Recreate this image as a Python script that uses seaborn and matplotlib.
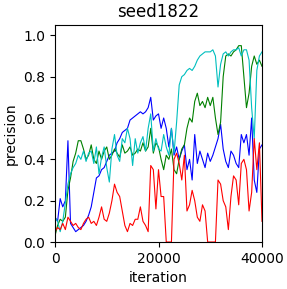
import numpy as np
import pandas as pd
import matplotlib
matplotlib.use("Agg")
import matplotlib.pyplot as plt
import seaborn as sns

iterations = list(range(0, 40001, 500))

red = [0.05, 0.07, 0.06, 0.09, 0.06, 0.12, 0.10, 0.08, 0.09, 0.07,
       0.06, 0.09, 0.11, 0.12, 0.09, 0.10, 0.08, 0.12, 0.17, 0.11,
       0.10, 0.14, 0.20, 0.28, 0.24, 0.22, 0.15, 0.08, 0.05, 0.09,
       0.08, 0.11, 0.11, 0.17, 0.10, 0.08, 0.05, 0.37, 0.35, 0.16,
       0.35, 0.22, 0.22, 0.00, 0.00, 0.00, 0.40, 0.43, 0.38, 0.30,
       0.42, 0.15, 0.18, 0.25, 0.20, 0.12, 0.10, 0.18, 0.15, 0.00,
       0.00, 0.00, 0.00, 0.30, 0.28, 0.20, 0.17, 0.06, 0.22, 0.32,
       0.30, 0.18, 0.38, 0.40, 0.35, 0.15, 0.24, 0.50, 0.35, 0.48,
       0.10]

blue = [0.12, 0.10, 0.21, 0.17, 0.20, 0.49, 0.09, 0.07, 0.05, 0.06,
        0.07, 0.08, 0.10, 0.13, 0.17, 0.24, 0.31, 0.32, 0.35, 0.36,
        0.39, 0.42, 0.43, 0.44, 0.48, 0.50, 0.53, 0.54, 0.55, 0.59,
        0.60, 0.61, 0.62, 0.63, 0.62, 0.63, 0.65, 0.70, 0.59, 0.61,
        0.62, 0.55, 0.60, 0.55, 0.46, 0.55, 0.42, 0.46, 0.40, 0.44,
        0.47, 0.35, 0.40, 0.30, 0.52, 0.38, 0.44, 0.40, 0.36, 0.43,
        0.39, 0.42, 0.46, 0.50, 0.57, 0.45, 0.39, 0.36, 0.44, 0.42,
        0.38, 0.36, 0.52, 0.48, 0.52, 0.42, 0.60, 0.30, 0.24, 0.45,
        0.47]

green = [0.03, 0.08, 0.11, 0.10, 0.12, 0.25, 0.31, 0.39, 0.43, 0.49,
         0.49, 0.45, 0.40, 0.42, 0.47, 0.40, 0.38, 0.44, 0.40, 0.44,
         0.46, 0.40, 0.42, 0.45, 0.43, 0.41, 0.47, 0.43, 0.44, 0.46,
         0.42, 0.43, 0.45, 0.44, 0.48, 0.44, 0.46, 0.55, 0.43, 0.48,
         0.46, 0.40, 0.35, 0.42, 0.40, 0.45, 0.35, 0.33, 0.40, 0.45,
         0.47, 0.55, 0.60, 0.58, 0.68, 0.72, 0.66, 0.68, 0.65, 0.70,
         0.66, 0.70, 0.60, 0.52, 0.58, 0.80, 0.90, 0.91, 0.90, 0.92,
         0.93, 0.95, 0.95, 0.80, 0.65, 0.72, 0.85, 0.90, 0.86, 0.88,
         0.85]

cyan = [0.12, 0.10, 0.05, 0.10, 0.19, 0.28, 0.33, 0.36, 0.38, 0.42,
        0.40, 0.44, 0.39, 0.43, 0.44, 0.38, 0.46, 0.33, 0.41, 0.46,
        0.36, 0.29, 0.45, 0.52, 0.42, 0.39, 0.50, 0.48, 0.55, 0.50,
        0.37, 0.50, 0.43, 0.48, 0.51, 0.44, 0.55, 0.62, 0.44, 0.50,
        0.45, 0.44, 0.52, 0.46, 0.42, 0.55, 0.43, 0.58, 0.76, 0.80,
        0.81, 0.83, 0.84, 0.83, 0.85, 0.88, 0.90, 0.91, 0.92, 0.92,
        0.92, 0.93, 0.90, 0.75, 0.86, 0.91, 0.92, 0.90, 0.92, 0.93,
        0.93, 0.94, 0.90, 0.93, 0.93, 0.88, 0.65, 0.50, 0.83, 0.90,
        0.92]

series = [("blue", blue, "b"), ("green", green, "g"), ("cyan", cyan, "c"), ("red", red, "r")]

fig = plt.figure(figsize=(2.87, 2.89), dpi=100)
ax = fig.add_axes([55/287, 1 - 242/289, 207/287, 217/289])
for name, vals, col in series:
    df = pd.DataFrame({"iteration": iterations, "precision": vals})
    sns.lineplot(data=df, x="iteration", y="precision", color=col,
                 linewidth=0.8, ax=ax, errorbar=None)

ax.set_xlim(0, 40000)
ax.set_ylim(0, 1.05)
ax.set_xticks([0, 20000, 40000])
ax.set_yticks([0.0, 0.2, 0.4, 0.6, 0.8, 1.0])
ax.set_xlabel("iteration")
ax.set_ylabel("precision")
ax.set_title("seed1822")
fig.savefig("out.png", dpi=100)
